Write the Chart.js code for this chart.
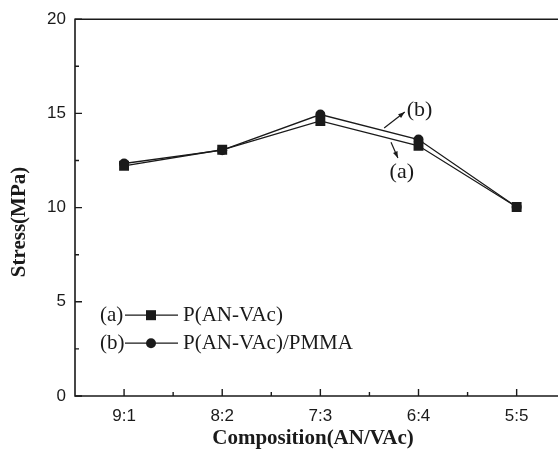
<!DOCTYPE html>
<html>
<head>
<meta charset="utf-8">
<script src="https://cdn.jsdelivr.net/npm/chart.js@4"></script>
<style>
  html, body { margin: 0; padding: 0; background: #fff; }
  canvas { display: block; }
</style>
</head>
<body>
<canvas id="stressChart" width="558" height="451"></canvas>
<script>
// data
const categories = ['9:1', '8:2', '7:3', '6:4', '5:5'];
const seriesA = [12.22, 13.07, 14.6, 13.28, 10.03];   // (a) P(AN-VAc)
const seriesB = [12.34, 13.05, 14.94, 13.61, 10.03];  // (b) P(AN-VAc)/PMMA
const yTicks = [0, 5, 10, 15, 20];
const yMinorTicks = [2.5, 7.5, 12.5, 17.5];
const xMinorTicks = [1.5, 2.5, 3.5, 4.5, 5.5];

const serif = '"Liberation Serif", "Times New Roman", serif';
const sans = '"Liberation Sans", Arial, sans-serif';

function toPoints(values) {
    return values.map((v, i) => ({ x: i + 1, y: v }));
}

// frame, inward ticks, arrow labels, y title and the legend box
const decorations = {
    id: 'decorations',
    afterDraw(chart) {
        const ctx = chart.ctx;
        const area = chart.chartArea;
        const xs = chart.scales.x;
        const ys = chart.scales.y;
        const edge = chart.width;
        ctx.save();
        ctx.strokeStyle = '#1a1a1a';
        ctx.lineWidth = 1.6;
        // the original figure is cut off on the right, so no right border
        ctx.beginPath();
        ctx.moveTo(edge, area.top);
        ctx.lineTo(area.left, area.top);
        ctx.lineTo(area.left, area.bottom);
        ctx.lineTo(edge, area.bottom);
        ctx.stroke();

        ctx.lineWidth = 1.4;
        ctx.beginPath();
        categories.forEach((c, i) => {
            const px = xs.getPixelForValue(i + 1);
            ctx.moveTo(px, area.bottom);
            ctx.lineTo(px, area.bottom - 7);
        });
        xMinorTicks.forEach(v => {
            const px = xs.getPixelForValue(v);
            if (px > edge) return;
            ctx.moveTo(px, area.bottom);
            ctx.lineTo(px, area.bottom - 4);
        });
        yTicks.forEach(v => {
            const py = ys.getPixelForValue(v);
            ctx.moveTo(area.left, py);
            ctx.lineTo(area.left + 7, py);
        });
        yMinorTicks.forEach(v => {
            const py = ys.getPixelForValue(v);
            ctx.moveTo(area.left, py);
            ctx.lineTo(area.left + 4, py);
        });
        ctx.stroke();

        // arrows pointing at the two curves
        function arrow(x0, y0, x1, y1) {
            const ax = xs.getPixelForValue(x0), ay = ys.getPixelForValue(y0);
            const bx = xs.getPixelForValue(x1), by = ys.getPixelForValue(y1);
            const ang = Math.atan2(by - ay, bx - ax);
            ctx.lineWidth = 1.2;
            ctx.beginPath();
            ctx.moveTo(ax, ay);
            ctx.lineTo(bx, by);
            ctx.stroke();
            ctx.beginPath();
            ctx.moveTo(bx, by);
            ctx.lineTo(bx - 7 * Math.cos(ang - 0.35), by - 7 * Math.sin(ang - 0.35));
            ctx.lineTo(bx - 7 * Math.cos(ang + 0.35), by - 7 * Math.sin(ang + 0.35));
            ctx.closePath();
            ctx.fillStyle = '#1a1a1a';
            ctx.fill();
        }
        arrow(3.65, 14.22, 3.86, 15.07);
        arrow(3.72, 13.47, 3.79, 12.63);

        ctx.fillStyle = '#1a1a1a';
        ctx.font = '22px ' + serif;
        ctx.textAlign = 'center';
        ctx.textBaseline = 'middle';
        ctx.fillText('(b)', xs.getPixelForValue(4.01), ys.getPixelForValue(15.17));
        ctx.fillText('(a)', xs.getPixelForValue(3.83), ys.getPixelForValue(11.88));

        // y axis title, sits a bit below the middle in the original
        ctx.save();
        ctx.translate(20, 222);
        ctx.rotate(-Math.PI / 2);
        ctx.font = 'bold 21px ' + serif;
        ctx.fillText('Stress(MPa)', 0, 0);
        ctx.restore();

        // legend
        const rows = [
            { tag: '(a)', name: 'P(AN-VAc)', style: 'rect', y: area.top + 296 },
            { tag: '(b)', name: 'P(AN-VAc)/PMMA', style: 'circle', y: area.top + 324 }
        ];
        ctx.font = '21px ' + serif;
        ctx.textAlign = 'left';
        rows.forEach(r => {
            ctx.fillText(r.tag, area.left + 25, r.y);
            ctx.lineWidth = 1.3;
            ctx.beginPath();
            ctx.moveTo(area.left + 50, r.y);
            ctx.lineTo(area.left + 103, r.y);
            ctx.stroke();
            const mx = area.left + 76;
            if (r.style === 'rect') {
                ctx.fillRect(mx - 5, r.y - 5, 10, 10);
            } else {
                ctx.beginPath();
                ctx.arc(mx, r.y, 5, 0, Math.PI * 2);
                ctx.fill();
            }
            ctx.fillText(r.name, area.left + 108, r.y);
        });
        ctx.restore();
    }
};

new Chart(document.getElementById('stressChart').getContext('2d'), {
    type: 'line',
    data: {
        datasets: [{
            label: 'P(AN-VAc)',
            data: toPoints(seriesA),
            borderColor: '#1a1a1a',
            backgroundColor: '#1a1a1a',
            borderWidth: 1.3,
            pointStyle: 'rect',
            pointRadius: 7,
            pointBorderWidth: 0,
            tension: 0
        }, {
            label: 'P(AN-VAc)/PMMA',
            data: toPoints(seriesB),
            borderColor: '#1a1a1a',
            backgroundColor: '#1a1a1a',
            borderWidth: 1.3,
            pointStyle: 'circle',
            pointRadius: 5,
            pointBorderWidth: 0,
            tension: 0
        }]
    },
    options: {
        responsive: false,
        animation: false,
        layout: { padding: { top: 19, right: 0, left: 0, bottom: 0 } },
        plugins: {
            legend: { display: false },
            tooltip: { enabled: false }
        },
        scales: {
            x: {
                type: 'linear',
                min: 0.5,
                max: 5.35,
                afterBuildTicks: scale => {
                    scale.ticks = categories.map((c, i) => ({ value: i + 1 }));
                },
                afterFit: scale => { scale.height = 55; },
                grid: { display: false, drawTicks: false },
                border: { display: false },
                ticks: {
                    autoSkip: false,
                    maxRotation: 0,
                    padding: 10,
                    color: '#1a1a1a',
                    font: { family: sans, size: 17 },
                    callback: v => categories[v - 1]
                },
                title: {
                    display: true,
                    text: 'Composition(AN/VAc)',
                    color: '#1a1a1a',
                    font: { family: serif, size: 21, weight: 'bold' },
                    padding: { top: 0, bottom: 0 }
                }
            },
            y: {
                min: 0,
                max: 20,
                afterBuildTicks: scale => {
                    scale.ticks = yTicks.map(v => ({ value: v }));
                },
                afterFit: scale => { scale.width = 75; },
                grid: { display: false, drawTicks: false },
                border: { display: false },
                ticks: {
                    padding: 9,
                    color: '#1a1a1a',
                    font: { family: sans, size: 17 }
                },
                title: { display: false }
            }
        }
    },
    plugins: [decorations]
});
</script>
</body>
</html>
